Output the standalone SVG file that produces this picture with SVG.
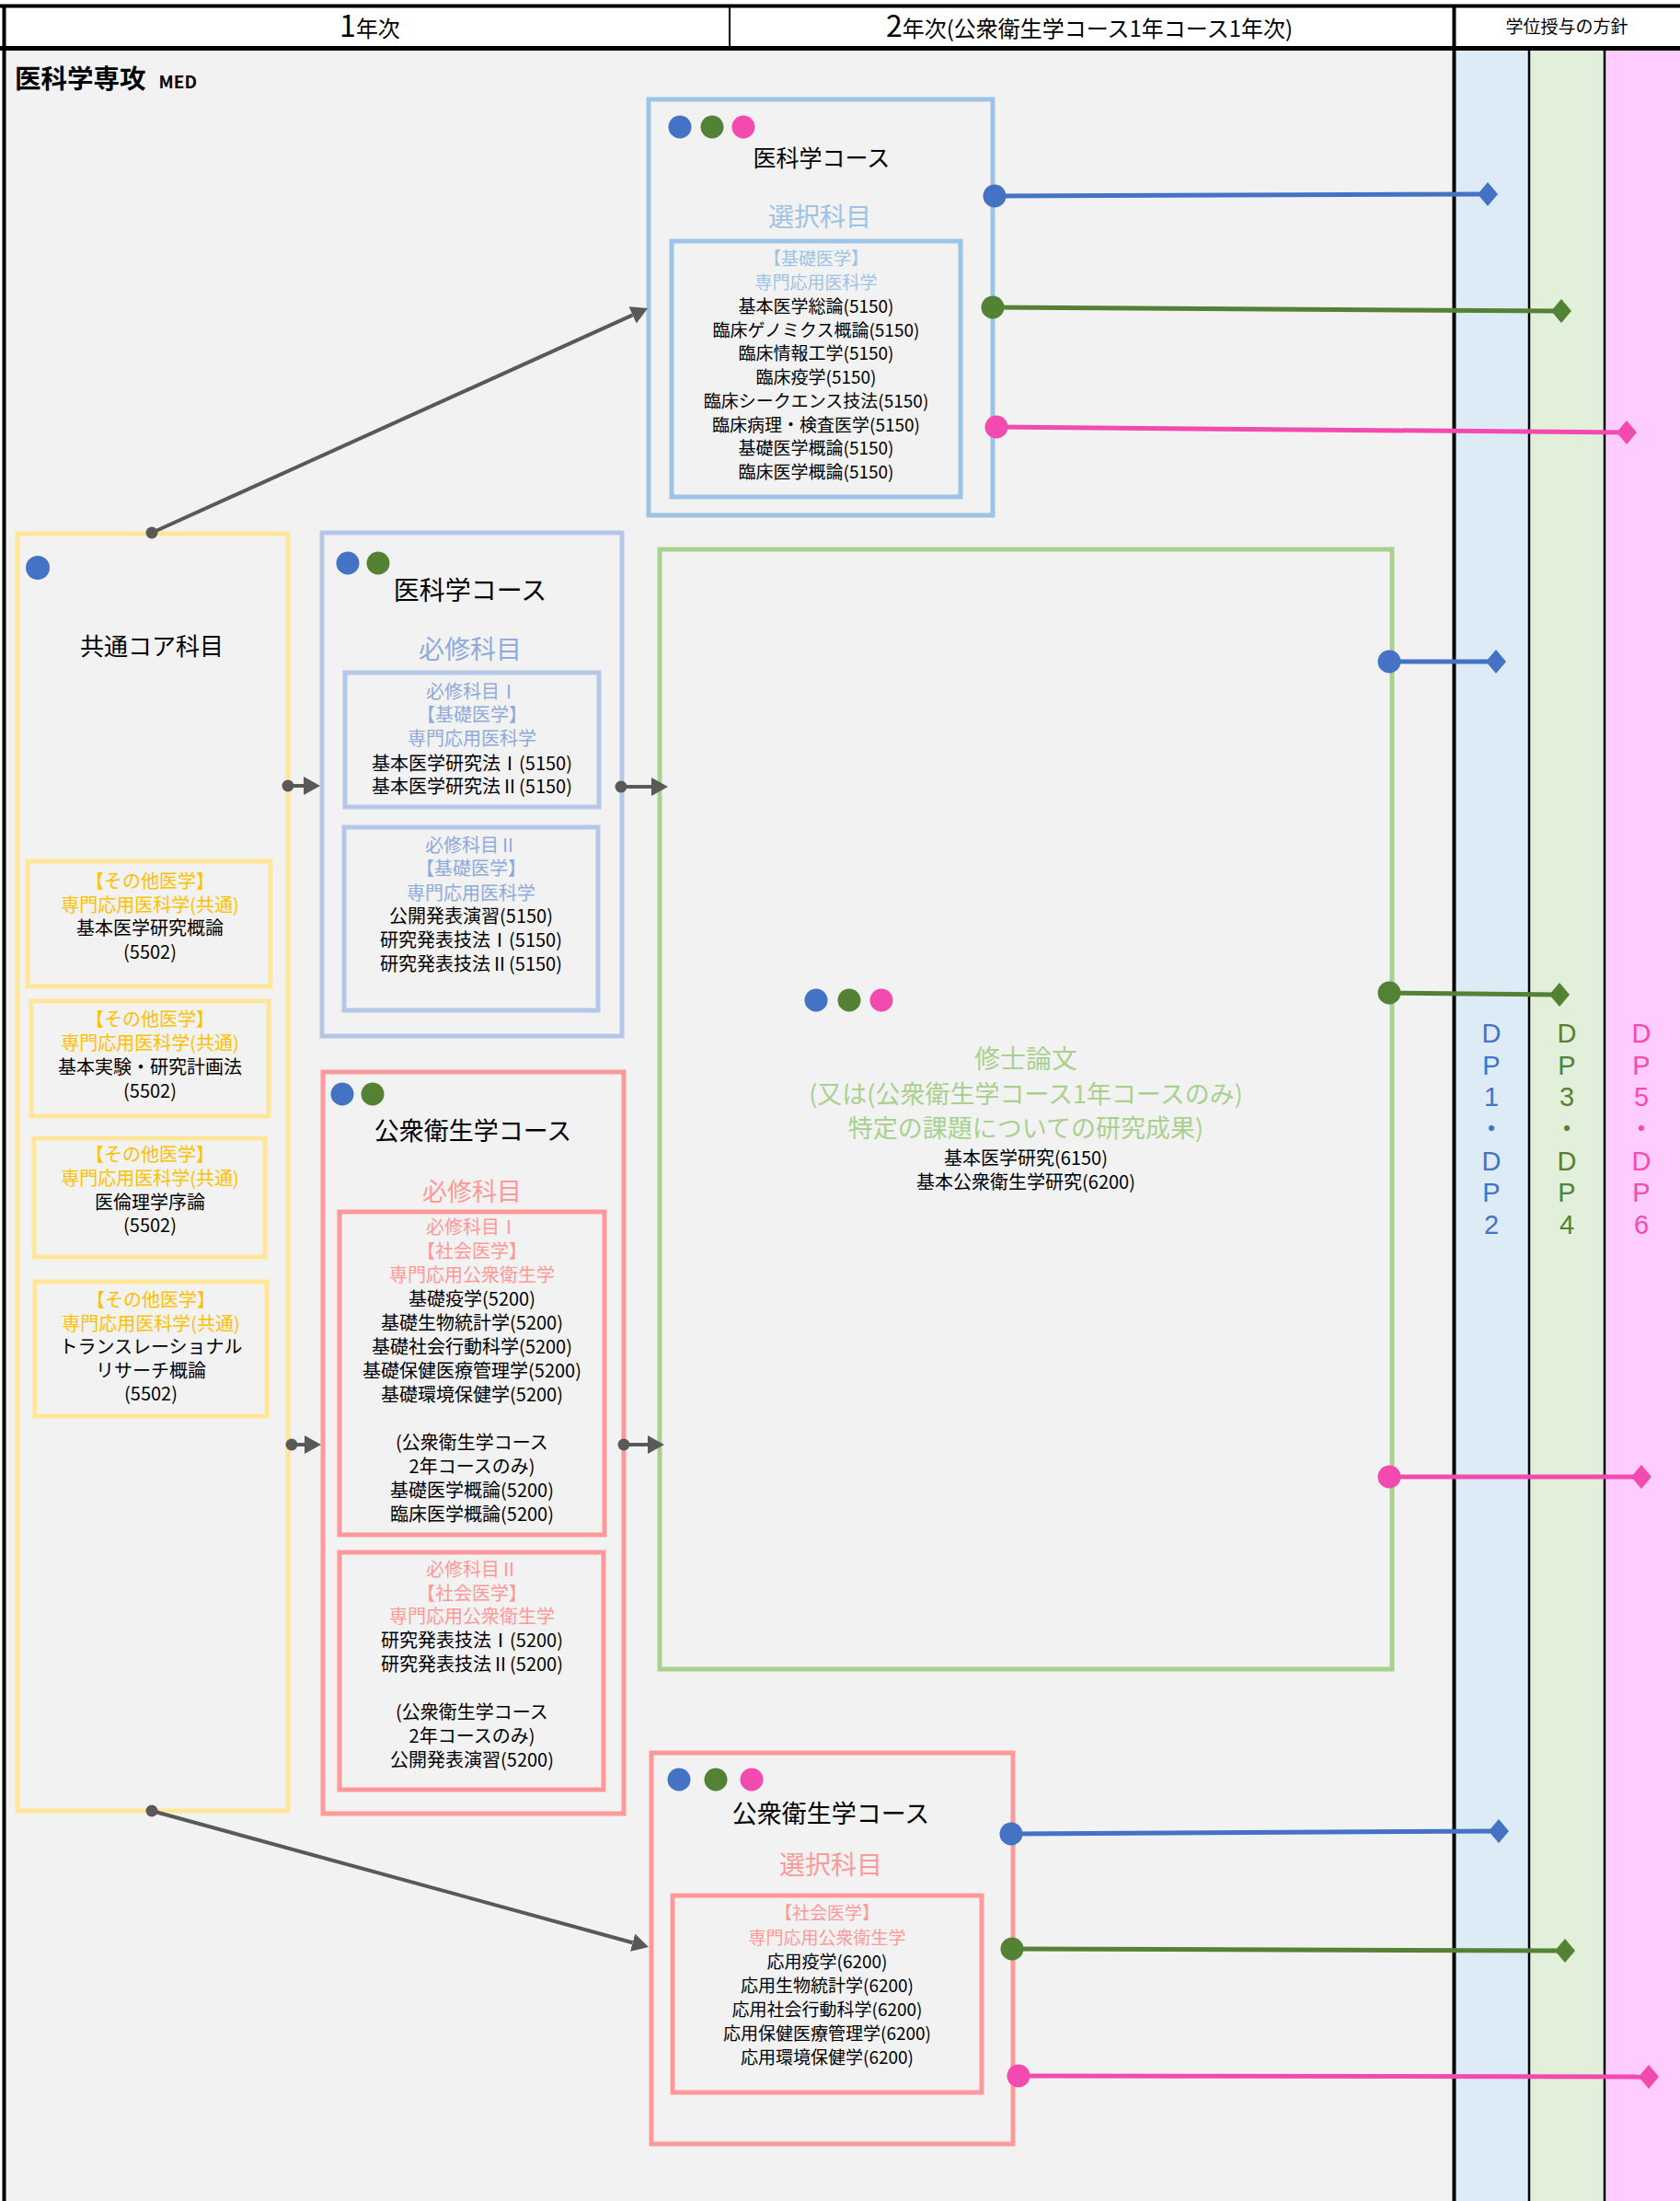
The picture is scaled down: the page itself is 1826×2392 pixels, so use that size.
<svg xmlns="http://www.w3.org/2000/svg" width="1826" height="2392" viewBox="0 0 1826 2392">
<defs>
<style>
text { font-family: "Noto Sans CJK JP", "Noto Sans", sans-serif; text-anchor: middle; fill: #000; }
.box { fill: none; stroke-width: 5; }
.sb { stroke: #9DC3E6; }
.lb { stroke: #B4C7E7; }
.yl { stroke: #FFE699; }
.rd { stroke: #FF9999; }
.gr { stroke: #A9D18E; }
.t-sb { fill: #9DC3E6; }
.t-lb { fill: #8FAADC; }
.t-yl { fill: #FFC000; }
.t-rd { fill: #FF9999; }
.t-gr { fill: #A9D18E; }
.s19 { font-size: 19px; }
.s20 { font-size: 20px; }
.s26 { font-size: 26px; }
.s27 { font-size: 27px; }
.s28 { font-size: 28px; }
.cB { fill: #4472C4; }
.cG { fill: #548235; }
.cP { fill: #F34AB0; }
.grid { stroke: #000; fill: none; }
.conn { stroke: #595959; stroke-width: 4; fill: none; marker-start: url(#gdot); marker-end: url(#ah); }
.lnB { stroke: #4472C4; stroke-width: 5; fill: none; marker-start: url(#dotB); marker-end: url(#diaB); }
.lnG { stroke: #548235; stroke-width: 5; fill: none; marker-start: url(#dotG); marker-end: url(#diaG); }
.lnP { stroke: #F34AB0; stroke-width: 5; fill: none; marker-start: url(#dotP); marker-end: url(#diaP); }
.dp { font-family: "Liberation Sans", "Noto Sans CJK JP", sans-serif; font-size: 29px; }
.dot { font-family: "Noto Sans CJK JP", sans-serif; font-size: 24px; font-weight: 700; }
</style>
<marker id="gdot" markerUnits="userSpaceOnUse" viewBox="0 0 14 14" refX="7" refY="7" markerWidth="14" markerHeight="14"><circle cx="7" cy="7" r="6.5" fill="#595959"/></marker>
<marker id="ah" markerUnits="userSpaceOnUse" viewBox="0 0 18 20" refX="0" refY="10" markerWidth="18" markerHeight="20" orient="auto"><path d="M0 0 L18 10 L0 20 Z" fill="#595959"/></marker>
<marker id="dotB" markerUnits="userSpaceOnUse" viewBox="0 0 26 26" refX="13" refY="13" markerWidth="26" markerHeight="26"><circle cx="13" cy="13" r="12.5" fill="#4472C4"/></marker>
<marker id="dotG" markerUnits="userSpaceOnUse" viewBox="0 0 26 26" refX="13" refY="13" markerWidth="26" markerHeight="26"><circle cx="13" cy="13" r="12.5" fill="#548235"/></marker>
<marker id="dotP" markerUnits="userSpaceOnUse" viewBox="0 0 26 26" refX="13" refY="13" markerWidth="26" markerHeight="26"><circle cx="13" cy="13" r="12.5" fill="#F34AB0"/></marker>
<marker id="diaB" markerUnits="userSpaceOnUse" viewBox="0 0 22 26" refX="11" refY="13" markerWidth="22" markerHeight="26"><path d="M0 13 L11 0 L22 13 L11 26 Z" fill="#4472C4"/></marker>
<marker id="diaG" markerUnits="userSpaceOnUse" viewBox="0 0 22 26" refX="11" refY="13" markerWidth="22" markerHeight="26"><path d="M0 13 L11 0 L22 13 L11 26 Z" fill="#548235"/></marker>
<marker id="diaP" markerUnits="userSpaceOnUse" viewBox="0 0 22 26" refX="11" refY="13" markerWidth="22" markerHeight="26"><path d="M0 13 L11 0 L22 13 L11 26 Z" fill="#F34AB0"/></marker>
</defs>

<g id="background">
<rect x="0" y="0" width="1826" height="2392" fill="#FFFFFF"/>
<rect x="5" y="53" width="1575" height="2339" fill="#F2F2F2"/>
<rect x="1580" y="53" width="82" height="2339" fill="#DDEBF7"/>
<rect x="1662" y="53" width="82" height="2339" fill="#E2EFDA"/>
<rect x="1744" y="53" width="82" height="2339" fill="#FFCCFF"/>
<line class="grid" x1="0" y1="6.5" x2="1826" y2="6.5" stroke-width="4"/>
<line class="grid" x1="0" y1="52.5" x2="1826" y2="52.5" stroke-width="5"/>
<line class="grid" x1="4.5" y1="5" x2="4.5" y2="2392" stroke-width="4"/>
<line class="grid" x1="793" y1="8" x2="793" y2="51" stroke-width="2"/>
<line class="grid" x1="1580.5" y1="8" x2="1580.5" y2="2392" stroke-width="4"/>
<line class="grid" x1="1662" y1="53" x2="1662" y2="2392" stroke-width="2.5"/>
<line class="grid" x1="1744" y1="53" x2="1744" y2="2392" stroke-width="2.5"/>
</g>

<g id="header">
<text x="402" y="40" style="font-size:24px"><tspan style="font-size:32px">1</tspan>年次</text>
<text x="1184" y="40" style="font-size:24px"><tspan style="font-size:32px">2</tspan>年次(公衆衛生学コース1年コース1年次)</text>
<text x="1703" y="36" style="font-size:19px">学位授与の方針</text>
<text x="16" y="96" style="font-size:28.5px;font-weight:700;text-anchor:start">医科学専攻<tspan dx="14" style="font-size:19px">MED</tspan></text>
</g>

<g id="dp-labels">
<g class="cB">
<text class="dp cB" x="1621" y="1133">D</text>
<text class="dp cB" x="1621" y="1168">P</text>
<text class="dp cB" x="1621" y="1202">1</text>
<text class="dot cB" x="1621" y="1235">・</text>
<text class="dp cB" x="1621" y="1272">D</text>
<text class="dp cB" x="1621" y="1306">P</text>
<text class="dp cB" x="1621" y="1341">2</text>
</g>
<g class="cG">
<text class="dp cG" x="1703" y="1133">D</text>
<text class="dp cG" x="1703" y="1168">P</text>
<text class="dp cG" x="1703" y="1202">3</text>
<text class="dot cG" x="1703" y="1235">・</text>
<text class="dp cG" x="1703" y="1272">D</text>
<text class="dp cG" x="1703" y="1306">P</text>
<text class="dp cG" x="1703" y="1341">4</text>
</g>
<g class="cP">
<text class="dp cP" x="1784" y="1133">D</text>
<text class="dp cP" x="1784" y="1168">P</text>
<text class="dp cP" x="1784" y="1202">5</text>
<text class="dot cP" x="1784" y="1235">・</text>
<text class="dp cP" x="1784" y="1272">D</text>
<text class="dp cP" x="1784" y="1306">P</text>
<text class="dp cP" x="1784" y="1341">6</text>
</g>
</g>

<g id="node-ika-sentaku">
<rect class="box sb" x="705" y="108" width="374" height="452"/>
<circle class="cB" cx="739" cy="138" r="12.5"/>
<circle class="cG" cx="774" cy="138" r="12.5"/>
<circle class="cP" cx="808" cy="138" r="12.5"/>
<text x="893" y="181" style="font-size:25px">医科学コース</text>
<text class="s28 t-sb" x="891" y="246">選択科目</text>
<rect class="box sb" x="730" y="262" width="314" height="278"/>
<text class="s19 t-sb" x="887" y="288">【基礎医学】</text>
<text class="s19 t-sb" x="887" y="314">専門応用医科学</text>
<text class="s19" x="887" y="340">基本医学総論(5150)</text>
<text class="s19" x="887" y="366">臨床ゲノミクス概論(5150)</text>
<text class="s19" x="887" y="391">臨床情報工学(5150)</text>
<text class="s19" x="887" y="417">臨床疫学(5150)</text>
<text class="s19" x="887" y="443">臨床シークエンス技法(5150)</text>
<text class="s19" x="887" y="469">臨床病理・検査医学(5150)</text>
<text class="s19" x="887" y="494">基礎医学概論(5150)</text>
<text class="s19" x="887" y="520">臨床医学概論(5150)</text>
</g>

<g id="node-common-core">
<rect class="box yl" x="19" y="580" width="294" height="1388"/>
<circle class="cB" cx="41" cy="617" r="13"/>
<text class="s26" x="165" y="712">共通コア科目</text>
<rect class="box yl" x="30" y="936" width="264" height="136"/>
<text class="s20 t-yl" x="163" y="965">【その他医学】</text>
<text class="s20 t-yl" x="163" y="991">専門応用医科学(共通)</text>
<text class="s20" x="163" y="1016">基本医学研究概論</text>
<text class="s20" x="163" y="1042">(5502)</text>
<rect class="box yl" x="34" y="1088" width="258" height="125"/>
<text class="s20 t-yl" x="163" y="1115">【その他医学】</text>
<text class="s20 t-yl" x="163" y="1141">専門応用医科学(共通)</text>
<text class="s20" x="163" y="1167">基本実験・研究計画法</text>
<text class="s20" x="163" y="1193">(5502)</text>
<rect class="box yl" x="37" y="1237" width="251" height="129"/>
<text class="s20 t-yl" x="163" y="1262">【その他医学】</text>
<text class="s20 t-yl" x="163" y="1288">専門応用医科学(共通)</text>
<text class="s20" x="163" y="1314">医倫理学序論</text>
<text class="s20" x="163" y="1339">(5502)</text>
<rect class="box yl" x="38" y="1393" width="252" height="146"/>
<text class="s20 t-yl" x="164" y="1420">【その他医学】</text>
<text class="s20 t-yl" x="164" y="1446">専門応用医科学(共通)</text>
<text class="s20" x="164" y="1471">トランスレーショナル</text>
<text class="s20" x="164" y="1497">リサーチ概論</text>
<text class="s20" x="164" y="1522">(5502)</text>
</g>

<g id="node-ika-hisshu">
<rect class="box lb" x="350" y="579" width="326" height="547"/>
<circle class="cB" cx="378" cy="612" r="12.5"/>
<circle class="cG" cx="411" cy="612" r="12.5"/>
<text class="s28" x="511" y="652">医科学コース</text>
<text class="s28 t-lb" x="511" y="716">必修科目</text>
<rect class="box lb" x="375" y="731" width="276" height="146"/>
<text class="s20 t-lb" x="513" y="759">必修科目Ⅰ</text>
<text class="s20 t-lb" x="513" y="784">【基礎医学】</text>
<text class="s20 t-lb" x="513" y="810">専門応用医科学</text>
<text class="s20" x="513" y="837">基本医学研究法Ⅰ(5150)</text>
<text class="s20" x="513" y="862">基本医学研究法Ⅱ(5150)</text>
<rect class="box lb" x="374" y="899" width="276" height="199"/>
<text class="s20 t-lb" x="512" y="926">必修科目Ⅱ</text>
<text class="s20 t-lb" x="512" y="951">【基礎医学】</text>
<text class="s20 t-lb" x="512" y="978">専門応用医科学</text>
<text class="s20" x="512" y="1003">公開発表演習(5150)</text>
<text class="s20" x="512" y="1029">研究発表技法Ⅰ(5150)</text>
<text class="s20" x="512" y="1055">研究発表技法Ⅱ(5150)</text>
</g>

<g id="node-koshu-hisshu">
<rect class="box rd" x="351" y="1165" width="327" height="806"/>
<circle class="cB" cx="372" cy="1189" r="12.5"/>
<circle class="cG" cx="405" cy="1189" r="12.5"/>
<text class="s27" x="514" y="1239">公衆衛生学コース</text>
<text class="s27 t-rd" x="513" y="1305">必修科目</text>
<rect class="box rd" x="369" y="1317" width="288" height="351"/>
<text class="s20 t-rd" x="513" y="1341">必修科目Ⅰ</text>
<text class="s20 t-rd" x="513" y="1367">【社会医学】</text>
<text class="s20 t-rd" x="513" y="1393">専門応用公衆衛生学</text>
<text class="s20" x="513" y="1419">基礎疫学(5200)</text>
<text class="s20" x="513" y="1445">基礎生物統計学(5200)</text>
<text class="s20" x="513" y="1471">基礎社会行動科学(5200)</text>
<text class="s20" x="513" y="1497">基礎保健医療管理学(5200)</text>
<text class="s20" x="513" y="1523">基礎環境保健学(5200)</text>
<text class="s20" x="513" y="1575">(公衆衛生学コース</text>
<text class="s20" x="513" y="1601">2年コースのみ)</text>
<text class="s20" x="513" y="1627">基礎医学概論(5200)</text>
<text class="s20" x="513" y="1653">臨床医学概論(5200)</text>
<rect class="box rd" x="369" y="1687" width="287" height="258"/>
<text class="s20 t-rd" x="513" y="1713">必修科目Ⅱ</text>
<text class="s20 t-rd" x="513" y="1739">【社会医学】</text>
<text class="s20 t-rd" x="513" y="1764">専門応用公衆衛生学</text>
<text class="s20" x="513" y="1790">研究発表技法Ⅰ(5200)</text>
<text class="s20" x="513" y="1816">研究発表技法Ⅱ(5200)</text>
<text class="s20" x="513" y="1868">(公衆衛生学コース</text>
<text class="s20" x="513" y="1894">2年コースのみ)</text>
<text class="s20" x="513" y="1920">公開発表演習(5200)</text>
</g>

<g id="node-thesis">
<rect class="box gr" x="717" y="597" width="796" height="1217"/>
<circle class="cB" cx="887" cy="1087" r="12.5"/>
<circle class="cG" cx="923" cy="1087" r="12.5"/>
<circle class="cP" cx="958" cy="1087" r="12.5"/>
<text class="s28 t-gr" x="1115" y="1161">修士論文</text>
<text class="s27 t-gr" x="1115" y="1199">(又は(公衆衛生学コース1年コースのみ)</text>
<text class="s27 t-gr" x="1115" y="1236">特定の課題についての研究成果)</text>
<text class="s20" x="1115" y="1266">基本医学研究(6150)</text>
<text class="s20" x="1115" y="1292">基本公衆衛生学研究(6200)</text>
</g>

<g id="node-koshu-sentaku">
<rect class="box rd" x="708" y="1905" width="393" height="425"/>
<circle class="cB" cx="738" cy="1934" r="12.5"/>
<circle class="cG" cx="778" cy="1934" r="12.5"/>
<circle class="cP" cx="817" cy="1934" r="12.5"/>
<text class="s27" x="903" y="1981">公衆衛生学コース</text>
<text class="s28 t-rd" x="903" y="2037">選択科目</text>
<rect class="box rd" x="731" y="2060" width="336" height="214"/>
<text class="s19 t-rd" x="899" y="2086">【社会医学】</text>
<text class="s19 t-rd" x="899" y="2113">専門応用公衆衛生学</text>
<text class="s19" x="899" y="2139">応用疫学(6200)</text>
<text class="s19" x="899" y="2165">応用生物統計学(6200)</text>
<text class="s19" x="899" y="2191">応用社会行動科学(6200)</text>
<text class="s19" x="899" y="2217">応用保健医療管理学(6200)</text>
<text class="s19" x="899" y="2243">応用環境保健学(6200)</text>
</g>

<g id="connectors">
<path class="conn" d="M165 579 L687.6 342.4"/>
<path class="conn" d="M165 1968 L687.6 2111.2"/>
<path class="conn" d="M313 854 L330 854"/>
<path class="conn" d="M675 855 L708 855"/>
<path class="conn" d="M317 1570 L331 1570"/>
<path class="conn" d="M678 1570 L704 1570"/>
<path class="lnB" d="M1081 213 L1617 211"/>
<path class="lnG" d="M1079 334 L1697 338"/>
<path class="lnP" d="M1083 464 L1768 470"/>
<path class="lnB" d="M1510 719 L1626 719"/>
<path class="lnG" d="M1510 1079 L1695 1081"/>
<path class="lnP" d="M1510 1605 L1784 1605"/>
<path class="lnB" d="M1099 1993 L1629 1990"/>
<path class="lnG" d="M1100 2118 L1701 2120"/>
<path class="lnP" d="M1107 2256 L1792 2257"/>
</g>
</svg>
